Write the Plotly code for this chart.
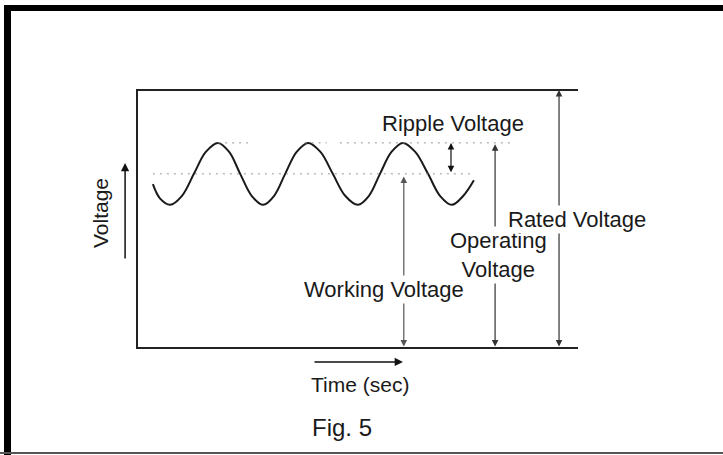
import plotly.graph_objects as go

# ---- data (time units: inner box spans 0..100; voltage units: rated = 10) ----
wave_t = [3.6, 5.2, 7.5, 10.2, 12.9, 15.6, 18.4, 20.9, 23.4, 26.0, 28.6, 31.1, 33.6, 36.2,
          38.8, 41.6, 44.4, 47.2, 50.1, 52.6, 55.1, 57.7, 60.3, 63.1, 66.0, 68.7, 71.4,
          74.0, 76.4]
wave_v = [6.35, 5.8, 5.55, 5.9, 6.75, 7.6, 7.95, 7.6, 6.75, 5.9, 5.55, 5.9, 6.75, 7.6,
          7.95, 7.6, 6.75, 5.9, 5.55, 5.9, 6.75, 7.6, 7.95, 7.6, 6.75, 5.9, 5.55,
          5.9, 6.5]

rated_voltage = 10.0
operating_voltage = 7.9
peak_voltage = 7.95
working_voltage = 6.75
zero_voltage = 0.0

box_t = [0, 100]
ripple_t = 71.2
working_t = 60.5
operating_t = 81.2
rated_t = 95.7
upper_dot_segments = [[18.4, 26.0], [38.0, 43.0], [46.0, 84.6]]
lower_dot_segments = [[3.6, 75.5]]

labels = ["Ripple Voltage", "Working Voltage", "Operating<br>Voltage", "Rated Voltage"]
label_t = [71.7, 56.0, 81.9, 99.8]
label_v = [8.72, 2.27, 3.6, 5.0]

FONT = "Liberation Sans, Arial, Helvetica, sans-serif"
INK = "#1a1a1a"

fig = go.Figure()

# sine wave
fig.add_trace(go.Scatter(x=wave_t, y=wave_v, mode="lines",
                         line=dict(color=INK, width=2, shape="spline", smoothing=1.0),
                         hoverinfo="skip", showlegend=False))

# dotted reference lines
for seg in upper_dot_segments:
    fig.add_trace(go.Scatter(x=seg, y=[peak_voltage, peak_voltage], mode="lines",
                             line=dict(color="#8f9a8f", width=1, dash="2px,5px"),
                             hoverinfo="skip", showlegend=False))
for seg in lower_dot_segments:
    fig.add_trace(go.Scatter(x=seg, y=[working_voltage, working_voltage], mode="lines",
                             line=dict(color="#8f9a8f", width=1, dash="2px,5px"),
                             hoverinfo="skip", showlegend=False))

# inner box: top (rated), left, bottom (zero)
fig.add_trace(go.Scatter(x=[box_t[1], box_t[0], box_t[0], box_t[1]],
                         y=[rated_voltage, rated_voltage, zero_voltage, zero_voltage],
                         mode="lines", line=dict(color="#222222", width=2),
                         hoverinfo="skip", showlegend=False))

annotations = []

def arrow(x0, y0, x1, y1, both=True, color="#333333", width=1.2):
    annotations.append(dict(x=x1, y=y1, ax=x0, ay=y0, xref="x", yref="y",
                            axref="x", ayref="y", text="", showarrow=True,
                            arrowhead=2, startarrowhead=2, arrowsize=1.1, startarrowsize=1.1,
                            arrowwidth=width, arrowcolor=color,
                            arrowside="end+start" if both else "end"))

arrow(ripple_t, working_voltage, ripple_t, peak_voltage, color="#111111")
arrow(working_t, zero_voltage, working_t, working_voltage - 0.1, color="#555555")
arrow(operating_t, zero_voltage, operating_t, operating_voltage, color="#333333")
arrow(rated_t, zero_voltage, rated_t, rated_voltage, color="#333333")
# axis arrows
arrow(-2.7, 3.41, -2.7, 7.17, both=False, color="#111111", width=1.5)
arrow(39.9, -0.54, 60.3, -0.54, both=False, color="#111111", width=1.5)

for txt, tx, tv in zip(labels, label_t, label_v):
    annotations.append(dict(x=tx, y=tv, xref="x", yref="y", text=txt, showarrow=False,
                            bgcolor="white", font=dict(family=FONT, size=22, color=INK),
                            align="center"))

annotations.append(dict(x=-8.4, y=5.23, xref="x", yref="y", text="Voltage", textangle=-90,
                        showarrow=False, font=dict(family=FONT, size=21, color=INK)))
annotations.append(dict(x=50.6, y=-1.43, xref="x", yref="y", text="Time (sec)",
                        showarrow=False, font=dict(family=FONT, size=21, color=INK)))
annotations.append(dict(x=46.5, y=-3.1, xref="x", yref="y", text="Fig. 5",
                        showarrow=False, font=dict(family=FONT, size=24, color=INK)))

# outer frame
shapes = [
    dict(type="line", xref="paper", yref="paper", x0=0.006, x1=1, y0=1 - 8 / 455, y1=1 - 8 / 455,
         line=dict(color="black", width=6)),
    dict(type="line", xref="paper", yref="paper", x0=7.5 / 723, x1=7.5 / 723, y0=0, y1=1 - 5 / 455,
         line=dict(color="black", width=7)),
    dict(type="line", xref="paper", yref="paper", x0=0, x1=1, y0=2 / 455, y1=2 / 455,
         line=dict(color="#555555", width=2)),
]

fig.update_layout(
    width=723, height=455, autosize=False,
    margin=dict(l=0, r=0, t=0, b=0),
    paper_bgcolor="white", plot_bgcolor="white",
    xaxis=dict(range=[-137 / 4.41, (723 - 137) / 4.41], visible=False, fixedrange=True),
    yaxis=dict(range=[(348 - 455) / 25.8, 348 / 25.8], visible=False, fixedrange=True),
    annotations=annotations, shapes=shapes, showlegend=False,
)

fig.write_html("out.html", config={"displayModeBar": False},
               post_script="document.body.style.margin='0';document.body.style.padding='0';"
                           "document.body.style.overflow='hidden';")
